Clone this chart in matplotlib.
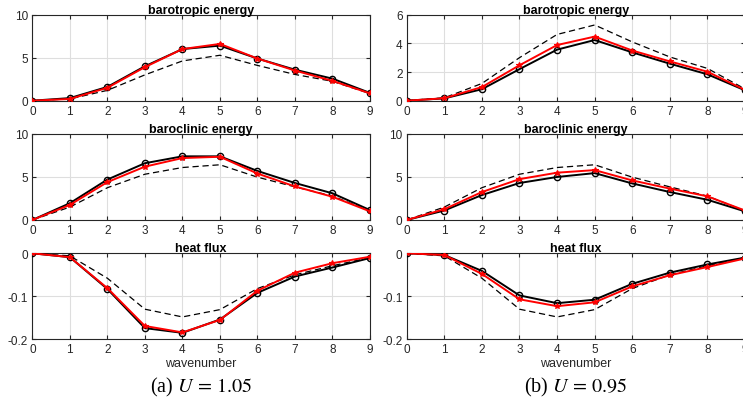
import numpy as np
import matplotlib
matplotlib.use("Agg")
import matplotlib.pyplot as plt

k = np.arange(10)
wavenumbers = list(range(10))

# reference (dashed) curves - same in both cases
ref_bt = [0, 0.2, 1.2, 3.0, 4.62, 5.28, 4.1, 3.05, 2.25, 0.82]
ref_bc = [0, 1.5, 3.75, 5.32, 6.1, 6.42, 4.98, 3.85, 2.78, 1.05]
ref_hf = [0, -0.006, -0.058, -0.130, -0.148, -0.131, -0.082, -0.050, -0.029, -0.010]

# case (a) U = 1.05
a_black_bt = [0, 0.3, 1.6, 4.0, 6.0, 6.4, 4.9, 3.6, 2.56, 0.9]
a_red_bt = [0, 0.2, 1.5, 3.9, 6.0, 6.6, 4.9, 3.5, 2.3, 0.85]
a_black_bc = [0, 1.95, 4.7, 6.6, 7.4, 7.4, 5.7, 4.3, 3.1, 1.15]
a_red_bc = [0, 1.75, 4.4, 6.2, 7.2, 7.35, 5.4, 3.9, 2.7, 1.0]
a_black_hf = [0, -0.009, -0.083, -0.174, -0.185, -0.154, -0.092, -0.054, -0.033, -0.011]
a_red_hf = [0, -0.009, -0.081, -0.169, -0.184, -0.155, -0.087, -0.045, -0.023, -0.008]

# case (b) U = 0.95
b_black_bt = [0, 0.16, 0.8, 2.2, 3.56, 4.23, 3.37, 2.58, 1.84, 0.72]
b_red_bt = [0, 0.17, 0.95, 2.47, 3.88, 4.47, 3.5, 2.74, 2.02, 0.75]
b_black_bc = [0, 1.1, 2.9, 4.3, 5.0, 5.45, 4.25, 3.25, 2.35, 1.0]
b_red_bc = [0, 1.25, 3.25, 4.75, 5.5, 5.8, 4.6, 3.65, 2.75, 1.1]
b_black_hf = [0, -0.004, -0.041, -0.098, -0.116, -0.108, -0.071, -0.045, -0.026, -0.010]
b_red_hf = [0, -0.004, -0.048, -0.107, -0.123, -0.114, -0.077, -0.051, -0.032, -0.012]

titles = ['barotropic energy', 'baroclinic energy', 'heat flux']
captions = ['(a) $U\\,=\\,1.05$', '(b) $U\\,=\\,0.95$']

cols = [
    [(a_black_bt, a_red_bt, ref_bt), (a_black_bc, a_red_bc, ref_bc), (a_black_hf, a_red_hf, ref_hf)],
    [(b_black_bt, b_red_bt, ref_bt), (b_black_bc, b_red_bc, ref_bc), (b_black_hf, b_red_hf, ref_hf)],
]
ylims = [[(0, 10), (0, 10), (-0.2, 0)], [(0, 6), (0, 10), (-0.2, 0)]]
yticks = [[[0, 5, 10], [0, 5, 10], [-0.2, -0.1, 0]], [[0, 2, 4, 6], [0, 5, 10], [-0.2, -0.1, 0]]]

plt.rcParams['font.family'] = ['Liberation Sans', 'DejaVu Sans']
plt.rcParams['mathtext.fontset'] = 'stix'

fig = plt.figure(figsize=(7.43, 4.10), dpi=100)

col_left = [0.0435, 0.5474]
col_width = [0.4545, 0.4553]
row_bottom = [0.752, 0.461, 0.170]
row_height = 0.2098
dark = '0.15'

for c in range(2):
    for r in range(3):
        ax = fig.add_axes([col_left[c], row_bottom[r], col_width[c], row_height])
        black, red, ref = cols[c][r]
        ax.plot(k, ref, '--', color='k', lw=0.9, dashes=(5, 3), zorder=3)
        ax.plot(k, black, '-', color='k', lw=1.4, marker='o', ms=4.5,
                mfc='none', mew=1.0, zorder=4)
        ax.plot(k, red, '-', color='red', lw=1.4, marker='*', ms=4,
                mew=0.8, zorder=5)
        ax.set_xlim(0, 9)
        ax.set_ylim(*ylims[c][r])
        ax.set_xticks(wavenumbers)
        ax.set_yticks(yticks[c][r])
        ax.set_yticklabels([f'{v:g}' for v in yticks[c][r]])
        ax.grid(True, color='0.87', lw=0.8)
        ax.set_axisbelow(True)
        ax.tick_params(direction='in', top=True, right=True, length=3,
                       width=0.8, labelsize=8.5, colors=dark, pad=3)
        for s in ax.spines.values():
            s.set_color(dark)
            s.set_linewidth(0.8)
        ax.set_title(titles[r], fontsize=9, fontweight='bold', pad=1.5)
        if r == 2:
            ax.set_xlabel('wavenumber', fontsize=9, color=dark, labelpad=1)

    fig.text(col_left[c] + 0.4545 / 2, 0.055, captions[c], ha='center', va='center',
             fontsize=14.5, family=['Liberation Serif', 'DejaVu Serif'])

fig.savefig('out.png', dpi=100)
